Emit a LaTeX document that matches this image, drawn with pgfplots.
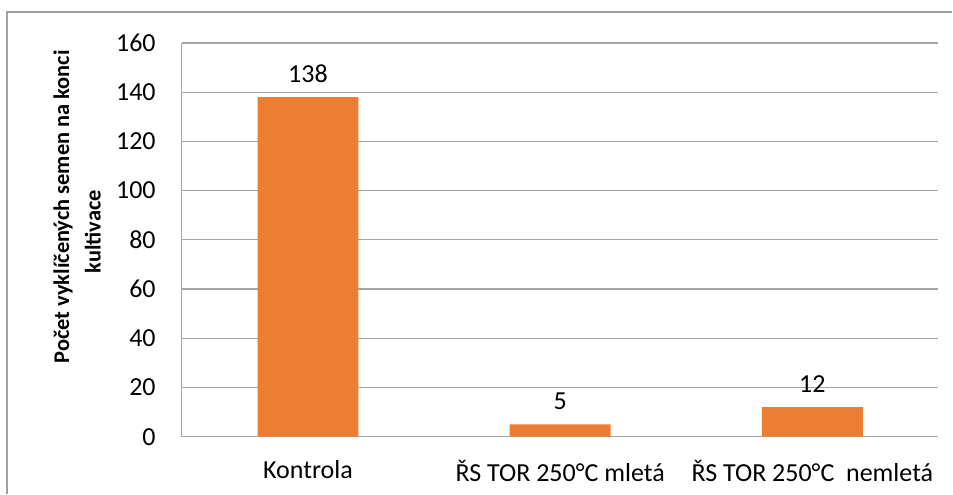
\documentclass[border=0pt]{standalone}
\usepackage{fontspec}
\setmainfont{Carlito}
\usepackage{pgfplots}
\pgfplotsset{compat=1.18}
\definecolor{barorange}{HTML}{ED7D31}
\definecolor{gridgray}{HTML}{A6A6A6}
\definecolor{framegray}{HTML}{A0A0A0}
\begin{document}
\fontsize{19.5pt}{23pt}\selectfont
\begin{tikzpicture}
\begin{axis}[
    at={(0pt,0pt)}, anchor=south west,
    scale only axis,
    width=567.75pt, height=295.5pt,
    ymin=0, ymax=160,
    ytick={0,20,...,160},
    xmin=-0.5, xmax=2.5,
    xtick={0,1,2},
    xticklabels={Kontrola, ŘS TOR 250°C mletá, ŘS TOR 250°C\ \ nemletá},
    axis x line*=bottom,
    axis y line*=left,
    axis line style={gridgray, line width=0.9pt},
    ymajorgrids,
    grid style={gridgray, line width=0.9pt},
    major tick length=0pt,
    tick style={draw=none},
    /pgf/number format/assume math mode=true,
    ticklabel style={font=\fontsize{19.5pt}{23pt}\selectfont},
    yticklabel style={xshift=-13pt},
    xticklabel style={yshift=-11pt},
    ybar, bar width=0.4,
    nodes near coords,
    nodes near coords style={font=\fontsize{19.5pt}{23pt}\selectfont, yshift=4pt},
]
\addplot[fill=barorange, draw=none] coordinates {(0,138) (1,5) (2,12)};
\end{axis}
\node[rotate=90, font=\bfseries\fontsize{16.8pt}{20pt}\selectfont] at (-89.25pt,172.5pt) {Počet vyklíčených semen na konci};
\node[rotate=90, font=\bfseries\fontsize{16.8pt}{20pt}\selectfont] at (-66.75pt,153.75pt) {kultivace};
\draw[framegray, line width=0.9pt] (-131.25pt,-42.75pt) -- (-131.25pt,318.75pt) -- (578.25pt,318.75pt);
\path[use as bounding box] (-136.5pt,-42.75pt) rectangle (578.25pt,327.75pt);
\end{tikzpicture}
\end{document}
